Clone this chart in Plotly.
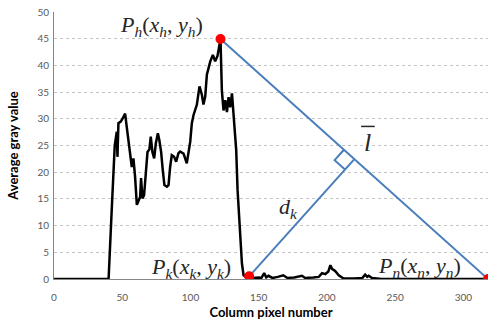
import plotly.graph_objects as go

# ---- data ----
column_px = [0, 40, 42.3, 44.5, 46, 46.5, 47.2, 48.9, 50.1, 52.1, 53.3, 54.5, 55.8, 57, 58.2,
             59.4, 60.7, 61.9, 63.1, 63.8, 64.8, 66, 67.3, 68.5, 69.9, 70.9, 72.1, 73.4, 74.6,
             76.1, 77.2, 78.5, 79.7, 80.9, 82.7, 83.9, 85.1, 86.3, 88, 89.5, 91.2, 92.4, 94.9,
             97.3, 99.8, 101, 102.2, 104.7, 106.6, 108.3, 109.5, 110.8, 112, 114.5, 116.4,
             118.1, 119.8, 121.3, 122, 123, 124.2, 125.5, 126.7, 127.9, 129.1, 130.4, 131.3,
             132.8, 133.5, 134.5, 136, 137.7, 138.9, 141, 143, 146, 150, 152, 154, 155.5,
             157.2, 160, 164, 168, 171, 176, 181.7, 184, 190, 194, 196.4, 198.8, 201, 202.5,
             203.7, 206, 208.6, 212.2, 220, 226, 228, 229.5, 230.6, 233, 240, 318]
gray_value = [0, 0, 13, 25, 27.6, 22.9, 29.2, 29.5, 30, 31, 28.5, 26, 22.9, 21, 22.6,
              19.2, 13.9, 14.8, 15.4, 18.9, 15.1, 15.7, 19.8, 23.8, 24.3, 26.7, 23.8, 22.6, 25.4,
              27.3, 26, 23.8, 20.4, 17.6, 17.3, 17.6, 21, 23.2, 22.9, 22, 23.6, 23.9, 23.5,
              21.7, 25.7, 29.2, 30.7, 32.7, 36.1, 34.6, 32.7, 34.2, 38.3, 40.8, 42,
              40.8, 41.8, 44.6, 45, 35.3, 31.6, 33.5, 31.3, 34.1, 32.2, 34.8, 31.6,
              26, 24.2, 16.7, 9.2, 2.9, 0.7, 0.3, 0.3, 0.2, 0.3, 0.2, 1.1, 0.3,
              0.6, 0.2, 0.4, 0.7, 0.2, 0.3, 0.6, 0.2, 0.3, 0.4, 1.1, 0.9, 1.4, 2.6,
              1.9, 1.5, 0.7, 0.1, 0.1, 0.2, 0.8, 0.4, 0.6, 0.2, 0, 0]

P_h = (122, 45)     # peak point
P_k = (143, 0.5)    # point of maximum distance
P_n = (318, 0)      # end point

x_ticks = [0, 50, 100, 150, 200, 250, 300]
y_ticks = [0, 5, 10, 15, 20, 25, 30, 35, 40, 45, 50]

# ---- layout geometry ----
W, H = 488, 320
ML, MR, MT, MB = 54, 0, 12, 41
X_RANGE = [0, 318]
Y_RANGE = [0, 50.05]
sx = (W - ML - MR) / (X_RANGE[1] - X_RANGE[0])
sy = (H - MT - MB) / (Y_RANGE[1] - Y_RANGE[0])

# perpendicular foot computed in screen space (so the right angle looks square)
def to_s(p):
    return (p[0] * sx, p[1] * sy)

def to_d(p):
    return (p[0] / sx, p[1] / sy)

hs, ks, ns = to_s(P_h), to_s(P_k), to_s(P_n)
dx, dy = ns[0] - hs[0], ns[1] - hs[1]
L = (dx * dx + dy * dy) ** 0.5
ux, uy = dx / L, dy / L
t = (ks[0] - hs[0]) * ux + (ks[1] - hs[1]) * uy
foot_s = (hs[0] + t * ux, hs[1] + t * uy)
foot = to_d(foot_s)

# right-angle marker (square of ~14 px)
s = 14
px_, py_ = ks[0] - foot_s[0], ks[1] - foot_s[1]
pl = (px_ * px_ + py_ * py_) ** 0.5
vx, vy = px_ / pl, py_ / pl
c1 = (foot_s[0] - ux * s, foot_s[1] - uy * s)
c2 = (c1[0] + vx * s, c1[1] + vy * s)
c3 = (foot_s[0] + vx * s, foot_s[1] + vy * s)
sq = [to_d(c1), to_d(c2), to_d(c3)]

blue = "#4a7ebb"
fig = go.Figure()

fig.add_trace(go.Scatter(x=column_px, y=gray_value, mode="lines",
                         line=dict(color="black", width=2.5), showlegend=False))
fig.add_trace(go.Scatter(x=[P_h[0], P_n[0]], y=[P_h[1], P_n[1]], mode="lines",
                         line=dict(color=blue, width=2), showlegend=False))
fig.add_trace(go.Scatter(x=[P_k[0], foot[0]], y=[P_k[1], foot[1]], mode="lines",
                         line=dict(color=blue, width=2), showlegend=False))
fig.add_trace(go.Scatter(x=[p[0] for p in sq], y=[p[1] for p in sq], mode="lines",
                         line=dict(color=blue, width=2), showlegend=False))
fig.add_trace(go.Scatter(x=[P_h[0], P_k[0], P_n[0]], y=[P_h[1], P_k[1], P_n[1]],
                         mode="markers", marker=dict(color="#ff0000", size=10),
                         showlegend=False))

serif = dict(family="Liberation Serif", size=22, color="#262626")
def lab(text, x, y, size=22):
    f = dict(serif)
    f["size"] = size
    fig.add_annotation(x=x, y=y, xref="x", yref="y", text=text, showarrow=False,
                       font=f, xanchor="center", yanchor="middle")

lab("<i>P</i><sub><i>h</i></sub>(<i>x</i><sub><i>h</i></sub>, <i>y</i><sub><i>h</i></sub>)", 79.1, 47.4)
lab("<i>P</i><sub><i>k</i></sub>(<i>x</i><sub><i>k</i></sub>, <i>y</i><sub><i>k</i></sub>)", 100.4, 2.1)
lab("<i>P</i><sub><i>n</i></sub>(<i>x</i><sub><i>n</i></sub>, <i>y</i><sub><i>n</i></sub>)", 268, 2.2)
lab("<i>d</i><sub><i>k</i></sub>", 172, 13.4)
lab("<i>l</i>", 230, 25.6, 26)
fig.add_shape(type="line", xref="x", yref="y", x0=225, x1=235, y0=28.6, y1=28.6,
              line=dict(color="#262626", width=1.5))

tick_font = dict(family="Lato", size=10, color="#595959")
title_font = dict(family="Lato", size=13, color="#000000")
fig.update_xaxes(range=X_RANGE, tickvals=x_ticks, tickfont=tick_font, showgrid=False,
                 zeroline=False, showline=True, linecolor="#868686", linewidth=1,
                 ticks="", automargin=False, ticklabelstandoff=9,
                 title=dict(text="<b>Column pixel number</b>", font=title_font))
fig.update_yaxes(range=Y_RANGE, tickvals=y_ticks, tickfont=tick_font, showgrid=True,
                 gridcolor="#c4c4c4", griddash="dot", gridwidth=1, zeroline=False,
                 showline=True, linecolor="#868686", linewidth=1, ticks="",
                 automargin=False, ticklabelstandoff=2,
                 title=dict(text="<b>Average gray value</b>", font=title_font))
fig.update_layout(width=W, height=H, margin=dict(l=ML, r=MR, t=MT, b=MB),
                  plot_bgcolor="white", paper_bgcolor="white")

fig.write_html("out.html", config={"displayModeBar": False},
               post_script="document.body.style.margin='0';document.body.style.overflow='hidden';")
